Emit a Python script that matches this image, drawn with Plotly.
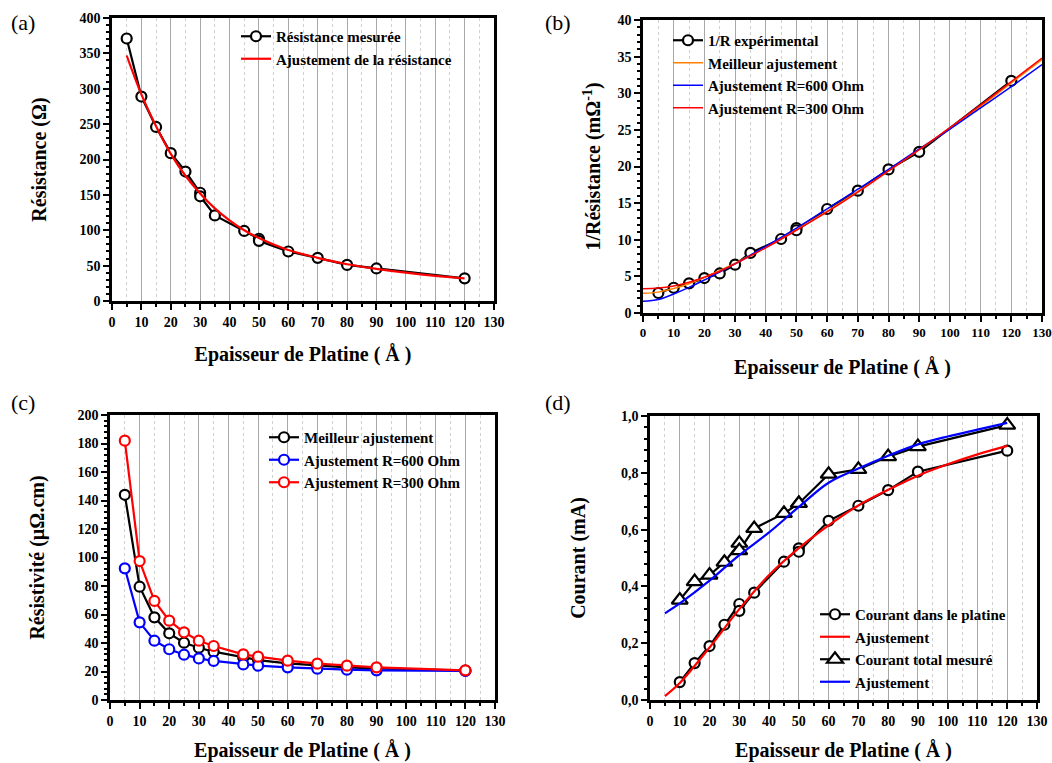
import plotly.graph_objects as go

FONT = "Liberation Serif, Times New Roman, serif"

# ---------- (a) ----------
thick_a = [5, 10, 15, 20, 25, 30, 30, 35, 45, 50, 50, 60, 70, 80, 90, 120]
res_meas = [371, 289, 246, 209, 183, 153, 148, 121, 99, 88, 85, 70, 61, 51, 46, 32]
fit_x_a = [5, 10, 15, 20, 25, 30, 35, 40, 45, 50, 60, 70, 80, 90, 100, 110, 120]
res_fit = [347, 292, 247, 208, 177, 152, 131, 114, 100, 89, 72, 61, 52, 45.5, 40, 35.5, 32]

# ---------- (b) ----------
thick_b = [5, 10, 15, 20, 25, 30, 35, 45, 50, 50, 60, 70, 80, 90, 120]
inv_res = [2.73, 3.45, 4.05, 4.77, 5.4, 6.6, 8.2, 10.1, 11.6, 11.3, 14.2, 16.7, 19.6, 22.0, 31.7]
fit_x_b = [0, 5, 10, 15, 20, 25, 30, 35, 40, 50, 60, 70, 80, 90, 100, 110, 120, 130]
best_fit_b = [2.7, 2.85, 3.35, 4.0, 4.85, 5.8, 6.8, 7.9, 9.0, 11.4, 13.9, 16.6, 19.4, 22.3, 25.2, 28.2, 31.4, 34.6]
fit600_b = [1.6, 1.85, 2.6, 3.5, 4.5, 5.6, 6.7, 7.9, 9.1, 11.6, 14.2, 16.9, 19.6, 22.4, 25.1, 28.0, 30.9, 33.9]
fit300_b = [3.3, 3.4, 3.7, 4.2, 4.9, 5.7, 6.7, 7.8, 8.9, 11.3, 13.8, 16.5, 19.4, 22.3, 25.3, 28.4, 31.6, 34.8]

# ---------- (c) ----------
thick_c = [5, 10, 15, 20, 25, 30, 35, 45, 50, 60, 70, 80, 90, 120]
rho_best = [144, 79.5, 58, 46.8, 40.2, 36.7, 33.9, 29.7, 28, 25.7, 24.1, 22.9, 22.2, 20.6]
rho_600 = [92.4, 54.5, 41.6, 35.6, 31.8, 29.2, 27.4, 25, 24.1, 22.9, 22, 21.3, 20.8, 20.4]
rho_300 = [182, 97.5, 69.5, 55.7, 47.5, 41.6, 37.9, 32, 30.4, 27.6, 25.5, 24.1, 22.9, 20.8]

# ---------- (d) ----------
thick_d = [10, 15, 20, 25, 30, 30, 35, 45, 50, 50, 60, 70, 80, 90, 120]
i_pt = [0.063, 0.13, 0.19, 0.265, 0.338, 0.314, 0.378, 0.487, 0.534, 0.522, 0.631, 0.684, 0.739, 0.804, 0.878]
i_tot = [0.352, 0.417, 0.44, 0.485, 0.552, 0.526, 0.604, 0.657, 0.692, 0.692, 0.795, 0.812, 0.857, 0.892, 0.968]
fit_x_d = [5, 10, 20, 30, 40, 50, 60, 70, 80, 90, 100, 110, 120]
i_pt_fit = [0.014, 0.06, 0.185, 0.32, 0.44, 0.535, 0.615, 0.685, 0.74, 0.79, 0.83, 0.865, 0.895]
i_tot_fit = [0.305, 0.34, 0.42, 0.51, 0.59, 0.68, 0.765, 0.815, 0.86, 0.9, 0.928, 0.952, 0.976]

x_ticks = list(range(0, 131, 10))

fig = go.Figure()

def mk(color, size=10, symbol="circle", width=2.2):
    return dict(symbol=symbol, size=size, color="white", line=dict(color=color, width=width))

# (a)
fig.add_trace(go.Scatter(x=thick_a, y=res_meas, mode="lines+markers", name="Résistance mesurée",
                         line=dict(color="black", width=2.2), marker=mk("black"), xaxis="x", yaxis="y", legend="legend"))
fig.add_trace(go.Scatter(x=fit_x_a, y=res_fit, mode="lines", name="Ajustement de la résistance",
                         line=dict(color="red", width=2.2, shape="spline"), xaxis="x", yaxis="y", legend="legend"))
# (b)
fig.add_trace(go.Scatter(x=thick_b, y=inv_res, mode="lines+markers", name="1/R expérimental",
                         line=dict(color="black", width=2.2), marker=mk("black"), xaxis="x2", yaxis="y2", legend="legend2"))
fig.add_trace(go.Scatter(x=fit_x_b, y=best_fit_b, mode="lines", name="Meilleur ajustement",
                         line=dict(color="#ff8000", width=1.5, shape="spline"), xaxis="x2", yaxis="y2", legend="legend2"))
fig.add_trace(go.Scatter(x=fit_x_b, y=fit600_b, mode="lines", name="Ajustement R=600 Ohm",
                         line=dict(color="blue", width=1.5, shape="spline"), xaxis="x2", yaxis="y2", legend="legend2"))
fig.add_trace(go.Scatter(x=fit_x_b, y=fit300_b, mode="lines", name="Ajustement R=300 Ohm",
                         line=dict(color="red", width=1.5, shape="spline"), xaxis="x2", yaxis="y2", legend="legend2"))
# (c)
fig.add_trace(go.Scatter(x=thick_c, y=rho_best, mode="lines+markers", name="Meilleur ajustement",
                         line=dict(color="black", width=2.2), marker=mk("black"), xaxis="x3", yaxis="y3", legend="legend3"))
fig.add_trace(go.Scatter(x=thick_c, y=rho_600, mode="lines+markers", name="Ajustement R=600 Ohm",
                         line=dict(color="blue", width=2.2), marker=mk("blue"), xaxis="x3", yaxis="y3", legend="legend3"))
fig.add_trace(go.Scatter(x=thick_c, y=rho_300, mode="lines+markers", name="Ajustement R=300 Ohm",
                         line=dict(color="red", width=2.2), marker=mk("red"), xaxis="x3", yaxis="y3", legend="legend3"))
# (d)
fig.add_trace(go.Scatter(x=thick_d, y=i_pt, mode="lines+markers", name="Courant dans le platine",
                         line=dict(color="black", width=2.2), marker=mk("black"), xaxis="x4", yaxis="y4", legend="legend4"))
fig.add_trace(go.Scatter(x=fit_x_d, y=i_pt_fit, mode="lines", name="Ajustement",
                         line=dict(color="red", width=2.2, shape="spline"), xaxis="x4", yaxis="y4", legend="legend4"))
fig.add_trace(go.Scatter(x=thick_d, y=i_tot, mode="lines+markers", name="Courant total mesuré",
                         line=dict(color="black", width=2.2), marker=mk("black", size=14, symbol="triangle-up"),
                         xaxis="x4", yaxis="y4", legend="legend4"))
fig.add_trace(go.Scatter(x=fit_x_d, y=i_tot_fit, mode="lines", name="Ajustement",
                         line=dict(color="blue", width=2.2, shape="spline"), xaxis="x4", yaxis="y4", legend="legend4"))

W, H = 1052, 763
def px(xl, xr, yt, yb):
    return [xl / W, xr / W], [1 - yb / H, 1 - yt / H]

dom = {
    1: px(112, 494, 18, 301),
    2: px(643, 1042, 20, 313),
    3: px(110, 495, 415, 700),
    4: px(650, 1037, 416, 700),
}

tickfont = dict(family=FONT, size=14, color="black", weight="bold")
titlefont = dict(family=FONT, size=20, color="black", weight="bold")

def xax(d, anchor, standoff=14, tsize=14):
    tf = dict(tickfont)
    tf["size"] = tsize
    return dict(domain=d, anchor=anchor, range=[0, 130], tickvals=x_ticks, automargin=False,
                ticks="outside", ticklen=6, tickwidth=2, tickcolor="black",
                showline=True, linewidth=2.5, linecolor="black", mirror=True,
                showgrid=True, gridcolor="#a8a8a8", gridwidth=1,
                minor=dict(dtick=5, ticks="outside", ticklen=3, tickwidth=1.5, tickcolor="black",
                           showgrid=True, gridcolor="#d0d0d0", griddash="dot", gridwidth=1),
                zeroline=False, tickfont=tf,
                title=dict(text="Epaisseur de Platine ( Å )", font=titlefont, standoff=standoff))

def yax(d, anchor, rng, dtick, mdtick, title, fmt=None, standoff=14):
    a = dict(domain=d, anchor=anchor, range=rng, dtick=dtick, tick0=0, automargin=False,
             ticks="outside", ticklen=6, tickwidth=2, tickcolor="black",
             showline=True, linewidth=2.5, linecolor="black", mirror=True,
             showgrid=False, zeroline=False, tickfont=tickfont,
             minor=dict(dtick=mdtick, ticks="outside", ticklen=3, tickwidth=1.5, tickcolor="black"),
             title=dict(text=title, font=titlefont, standoff=standoff))
    if fmt:
        a["tickformat"] = fmt
    return a

layout = dict(
    width=W, height=H, margin=dict(l=0, r=0, t=0, b=0, autoexpand=False),
    paper_bgcolor="white", plot_bgcolor="white",
    separators=",.",
    font=dict(family=FONT, color="black"),
    xaxis=xax(dom[1][0], "y", 19),
    yaxis=yax(dom[1][1], "x", [0, 400], 50, 10, "Résistance (Ω)", standoff=28),
    xaxis2=xax(dom[2][0], "y2", 21, tsize=13),
    yaxis2=yax(dom[2][1], "x2", [0, 40], 5, 1, "1/Résistance (mΩ<sup>-1</sup>)", standoff=12),
    xaxis3=xax(dom[3][0], "y3", 16),
    yaxis3=yax(dom[3][1], "x3", [0, 200], 20, 4, "Résistivité (µΩ.cm)", standoff=28),
    xaxis4=xax(dom[4][0], "y4", 16),
    yaxis4=yax(dom[4][1], "x4", [0, 1.0], 0.2, 0.04, "Courant (mA)", fmt=".1f", standoff=30),
    showlegend=True,
)

legfont = dict(family=FONT, size=15, color="black", weight="bold")
def leg(x, y):
    return dict(x=x / W, y=1 - y / H, xanchor="left", yanchor="top", bgcolor="rgba(0,0,0,0)",
                font=legfont, tracegroupgap=0, itemwidth=30)

layout["legend"] = leg(236, 20)
layout["legend2"] = leg(668, 24)
layout["legend3"] = leg(264, 421)
layout["legend4"] = leg(815, 598)

fig.update_layout(**layout)

for txt, x, y in [("(a)", 23, 23), ("(b)", 558, 23), ("(c)", 23, 403), ("(d)", 558, 403)]:
    fig.add_annotation(text=txt, x=x / W, y=1 - y / H, xref="paper", yref="paper",
                       showarrow=False, xanchor="center", yanchor="middle",
                       font=dict(family=FONT, size=22, color="black"))

fig.write_html("out.html", config={"displayModeBar": False},
               post_script="document.body.style.margin='0';document.body.style.padding='0';")
